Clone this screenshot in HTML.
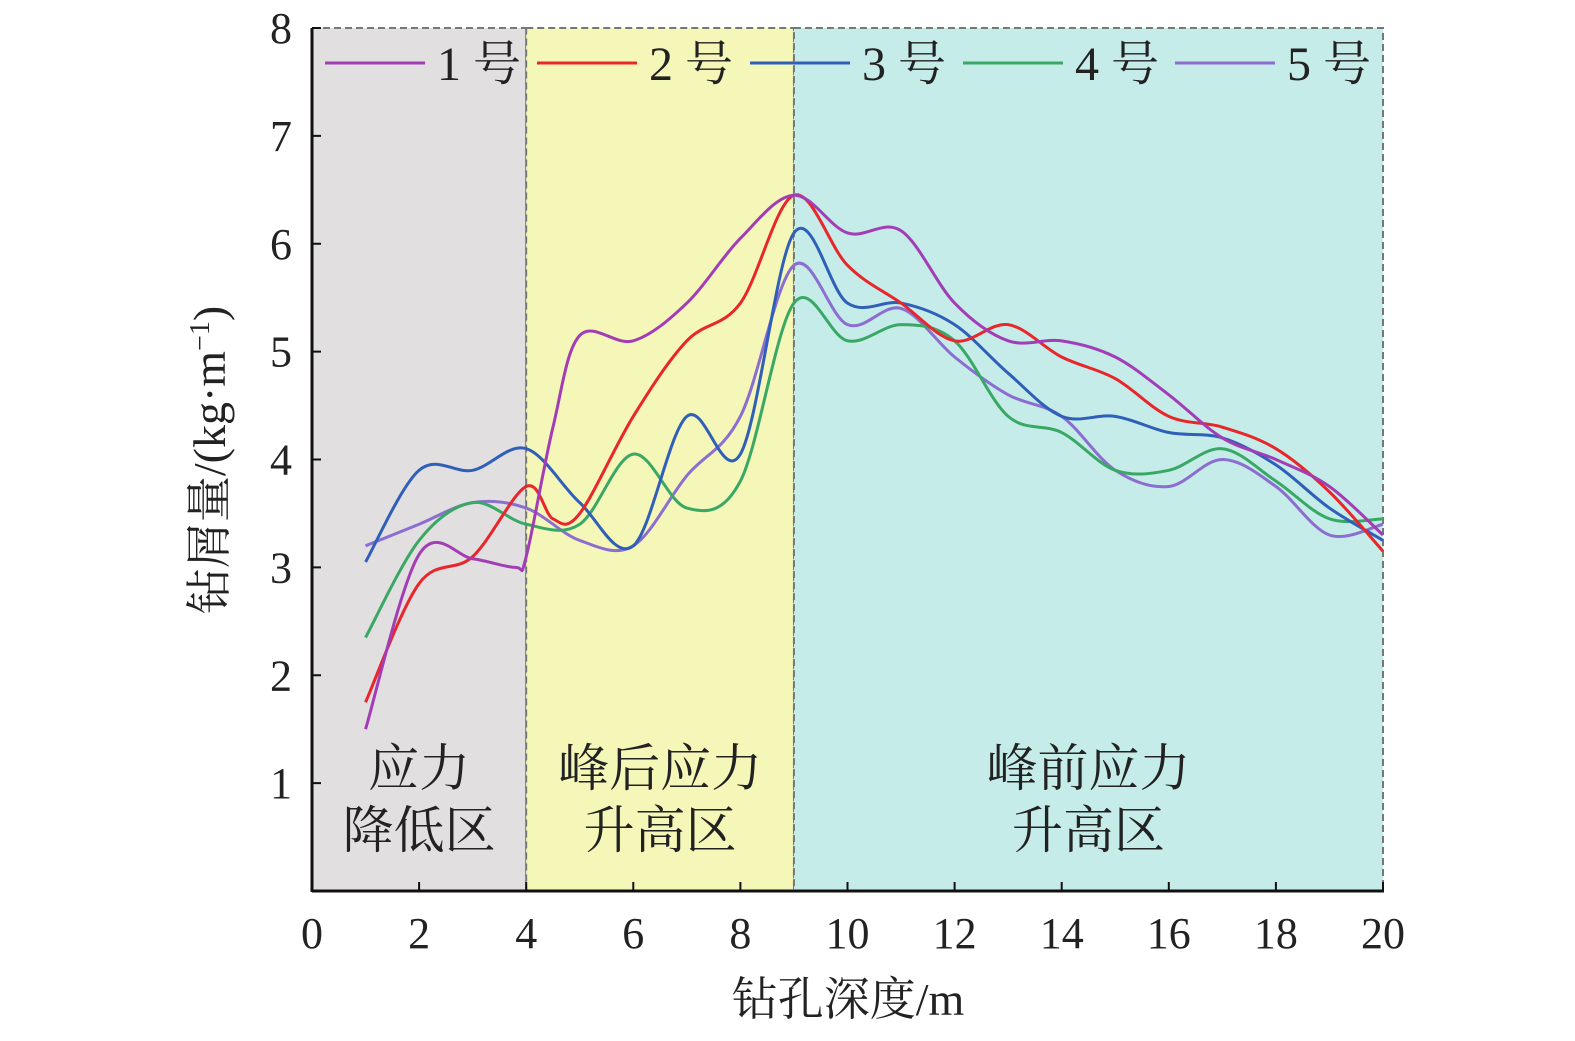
<!DOCTYPE html>
<html><head><meta charset="utf-8"><style>
html,body{margin:0;padding:0;background:#fff}
svg{display:block}
text{font-family:"Liberation Serif","Noto Serif CJK SC",serif;fill:#222}
</style></head><body>
<svg id="chart" width="1575" height="1041" viewBox="0 0 1575 1041" xmlns="http://www.w3.org/2000/svg">
<g id="bg"></g><g id="lines"></g><g id="axes"></g><g id="legend"></g>
</svg>
<script>
const xTicks=[0,2,4,6,8,10,12,14,16,18,20];
const yTicks=[1,2,3,4,5,6,7,8];
const s1x=[1,2,3,3.8,4,4.5,5,6,7,8,9,10,11,12,13,14,15,16,17,18,19,20];
const s1y=[1.5,3.12,3.08,3.0,3.1,4.3,5.15,5.1,5.45,6.05,6.45,6.1,6.12,5.45,5.1,5.1,4.95,4.6,4.2,4.0,3.75,3.3];
const s2x=[1,2,3,4,4.5,5,6,7,8,9,10,11,12,13,14,15,16,17,18,19,20];
const s2y=[1.75,2.85,3.1,3.75,3.45,3.5,4.4,5.1,5.45,6.45,5.8,5.45,5.1,5.25,4.95,4.75,4.4,4.3,4.1,3.7,3.15];
const s3x=[1,2,3,4,5,6,7,8,9,10,11,12,13,14,15,16,17,18,19,20];
const s3y=[3.05,3.9,3.9,4.1,3.6,3.2,4.4,4.05,6.1,5.45,5.45,5.25,4.8,4.4,4.4,4.25,4.2,3.95,3.55,3.25];
const s4y=[2.35,3.25,3.6,3.4,3.4,4.05,3.55,3.8,5.45,5.1,5.25,5.1,4.4,4.25,3.9,3.9,4.1,3.8,3.45,3.45];
const s5y=[3.2,3.4,3.6,3.55,3.25,3.2,3.85,4.4,5.8,5.25,5.4,4.95,4.6,4.4,3.9,3.75,4.0,3.75,3.3,3.4];
const seriesNames=["1 号","2 号","3 号","4 号","5 号"];
const colors=["#a23db6","#e8262b","#2f5fb8","#3aa865","#8c6dd0"];
const regions=[[0,4,"#e1dfdf",["应力","降低区"]],[4,9,"#f5f7b8",["峰后应力","升高区"]],[9,20,"#c5ece9",["峰前应力","升高区"]]];
const NS="http://www.w3.org/2000/svg";
const X=v=>312+v*(1383-312)/20;
const Y=v=>891-v*(891-28)/8;
function mk(tag,attrs,parent,txt){const e=document.createElementNS(NS,tag);for(const k in attrs)e.setAttribute(k,attrs[k]);if(txt!==undefined)e.textContent=txt;parent.appendChild(e);return e;}
const bg=document.getElementById('bg'),lg=document.getElementById('lines'),ax=document.getElementById('axes'),le=document.getElementById('legend');
regions.forEach((r,i)=>{
 const el=mk('rect',{x:X(r[0]),y:Y(8),width:X(r[1])-X(r[0]),height:Y(0)-Y(8),fill:r[2],stroke:"#777","stroke-width":2,"stroke-dasharray":"7,4"},bg);
 
 
 const cx=(X(r[0])+X(r[1]))/2;
 r[3].forEach((t,j)=>{const tt=mk('text',{x:cx,y:786+j*62,"font-size":51,"text-anchor":"middle"},bg,t);
 
 });
});
function path(xs,ys){
 const p=xs.map((x,i)=>[X(x),Y(ys[i])]);let d="M"+p[0][0]+","+p[0][1];
 for(let i=0;i<p.length-1;i++){const p0=p[i-1]||p[i],p1=p[i],p2=p[i+1],p3=p[i+2]||p2;
 d+=` C${p1[0]+(p2[0]-p0[0])/6},${p1[1]+(p2[1]-p0[1])/6} ${p2[0]-(p3[0]-p1[0])/6},${p2[1]-(p3[1]-p1[1])/6} ${p2[0]},${p2[1]}`;}
 return d;}
const sx=[s1x,s2x,s3x,s3x,s3x],sy=[s1y,s2y,s3y,s4y,s5y];
[4,3,2,1,0].forEach(i=>{const el=mk('path',{d:path(sx[i],sy[i]),fill:"none",stroke:colors[i],"stroke-width":3},lg);
 
 });
const a1=mk('line',{x1:312,y1:Y(0),x2:1384,y2:Y(0),stroke:"#111","stroke-width":3},ax);

const a2=mk('line',{x1:312,y1:Y(0)+1,x2:312,y2:Y(8),stroke:"#111","stroke-width":3},ax);

xTicks.forEach(v=>{mk('line',{x1:X(v),y1:Y(0),x2:X(v),y2:Y(0)-9,stroke:"#111","stroke-width":2},ax);
 const t=mk('text',{x:X(v),y:948,"font-size":44,"text-anchor":"middle"},ax,String(v));
 });
yTicks.forEach(v=>{mk('line',{x1:312,y1:Y(v),x2:321,y2:Y(v),stroke:"#111","stroke-width":2},ax);
 const t=mk('text',{x:292,y:Y(v)+15,"font-size":44,"text-anchor":"end"},ax,String(v));
 });
const xt=mk('text',{x:848,y:1015,"font-size":46,"text-anchor":"middle"},ax,"钻孔深度/m");

const yt=mk('text',{x:0,y:0,"font-size":46,"text-anchor":"middle",transform:"translate(225,460) rotate(-90)"},ax);

yt.innerHTML='钻屑量/(kg·m<tspan dy="-16" font-size="28">−1</tspan><tspan dy="16">)</tspan>';
const lx=[325,537,750,963,1175];
seriesNames.forEach((n,i)=>{const g=mk('g',{},le);
 
 mk('line',{x1:lx[i],y1:63,x2:lx[i]+100,y2:63,stroke:colors[i],"stroke-width":3},g);
 mk('text',{x:lx[i]+112,y:80,"font-size":48},g,n);});
</script>
</body></html>
